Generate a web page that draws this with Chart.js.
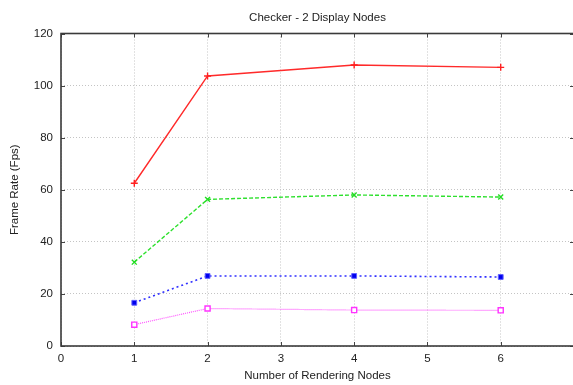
<!DOCTYPE html>
<html>
<head>
<meta charset="utf-8">
<script src="https://cdn.jsdelivr.net/npm/chart.js@4"></script>
<style>
  html, body { margin: 0; padding: 0; background: #fff; overflow: hidden; }
  #wrap { width: 580px; height: 385px; }
</style>
</head>
<body>
<div id="wrap"><canvas id="c" width="580" height="385"></canvas></div>
<script>
const nodes = [1, 2, 4, 6];
const series1 = [62.5, 103.7, 107.9, 107.0];
const series2 = [32.2, 56.3, 58.0, 57.2];
const series3 = [16.6, 26.9, 26.9, 26.5];
const series4 = [8.2, 14.4, 13.8, 13.7];
const xTicks = [0, 1, 2, 3, 4, 5, 6, 7];
const yTicks = [0, 20, 40, 60, 80, 100, 120];
const chartTitle = 'Checker - 2 Display Nodes';

const pts = arr => nodes.map((n, i) => ({ x: n, y: arr[i] }));
const FONT = "'Liberation Sans', Arial, sans-serif";
const FS = 11.5;

const tickMarks = {
  id: 'tickMarks',
  afterDraw(chart) {
    const { ctx, chartArea: a, scales: { x, y } } = chart;
    ctx.save();
    ctx.strokeStyle = '#444';
    ctx.lineWidth = 1;
    const L = 4;
    xTicks.forEach(v => {
      const px = Math.round(x.getPixelForValue(v)) + 0.5;
      ctx.beginPath();
      ctx.moveTo(px, a.bottom); ctx.lineTo(px, a.bottom - L);
      ctx.moveTo(px, a.top); ctx.lineTo(px, a.top + L);
      ctx.stroke();
    });
    yTicks.forEach(v => {
      const py = Math.round(y.getPixelForValue(v)) + 0.5;
      ctx.beginPath();
      ctx.moveTo(a.left, py); ctx.lineTo(a.left + L, py);
      ctx.moveTo(a.right, py); ctx.lineTo(a.right - L, py);
      ctx.stroke();
    });
    ctx.strokeStyle = '#3a3a3a';
    ctx.lineWidth = 1.6;
    ctx.strokeRect(a.left, a.top, a.right - a.left, a.bottom - a.top);
    ctx.fillStyle = '#222';
    ctx.font = FS + 'px ' + FONT;
    ctx.textAlign = 'center';
    ctx.textBaseline = 'middle';
    ctx.fillText(chartTitle, (a.left + a.right) / 2, 17.5);
    ctx.restore();
  }
};

new Chart(document.getElementById('c'), {
  type: 'line',
  data: {
    datasets: [
      { data: pts(series1), borderColor: '#ff2a2a', borderWidth: 1.4, pointStyle: 'cross', pointRadius: 3.5, pointBorderColor: '#ff2020', pointBorderWidth: 1.4, fill: false },
      { data: pts(series2), borderColor: '#2ee02e', borderWidth: 1.4, borderDash: [4, 2], pointStyle: 'crossRot', pointRadius: 3.5, pointBorderColor: '#22dd22', pointBorderWidth: 1.4, fill: false },
      { data: pts(series3), borderColor: '#3030ff', borderWidth: 1.6, borderDash: [2, 3], pointStyle: 'rect', pointRadius: 3.4, pointBackgroundColor: '#0000ee', pointBorderColor: '#6060ff', pointBorderWidth: 1, fill: false },
      { data: pts(series4), borderColor: '#ff55ff', borderWidth: 1.2, borderDash: [1, 1], pointStyle: 'rect', pointRadius: 3.6, pointBackgroundColor: '#ffffff', pointBorderColor: '#ff33ff', pointBorderWidth: 1.4, fill: false }
    ]
  },
  options: {
    responsive: false,
    animation: false,
    layout: { padding: { left: 0, right: 1, top: 33.5, bottom: 0 } },
    plugins: {
      legend: { display: false },
      tooltip: { enabled: false },
      title: { display: false }
    },
    scales: {
      x: {
        type: 'linear',
        min: 0, max: 7,
        afterFit: s => { s.height = 39; },
        afterBuildTicks: s => { s.ticks = xTicks.map(v => ({ value: v })); },
        ticks: {
          color: '#222',
          font: { family: FONT, size: FS },
          padding: 6,
          maxRotation: 0,
          callback: v => (v === 7 ? '' : String(v))
        },
        grid: { color: '#c4c4c4', lineWidth: 1, drawTicks: false, tickLength: 0 },
        border: { display: false, dash: [1, 2] },
        title: {
          display: true,
          text: 'Number of Rendering Nodes',
          color: '#222',
          font: { family: FONT, size: FS },
          padding: { top: 0, bottom: 2.4 }
        }
      },
      y: {
        min: 0, max: 120,
        afterFit: s => { s.width = 61; },
        afterBuildTicks: s => { s.ticks = yTicks.map(v => ({ value: v })); },
        ticks: {
          color: '#222',
          font: { family: FONT, size: FS },
          padding: 8
        },
        grid: { color: '#c4c4c4', lineWidth: 1, drawTicks: false, tickLength: 0 },
        border: { display: false, dash: [1, 2] },
        title: {
          display: true,
          text: 'Frame Rate (Fps)',
          color: '#222',
          font: { family: FONT, size: FS },
          padding: { top: 8.2, bottom: 0 }
        }
      }
    }
  },
  plugins: [tickMarks]
});
</script>
</body>
</html>
